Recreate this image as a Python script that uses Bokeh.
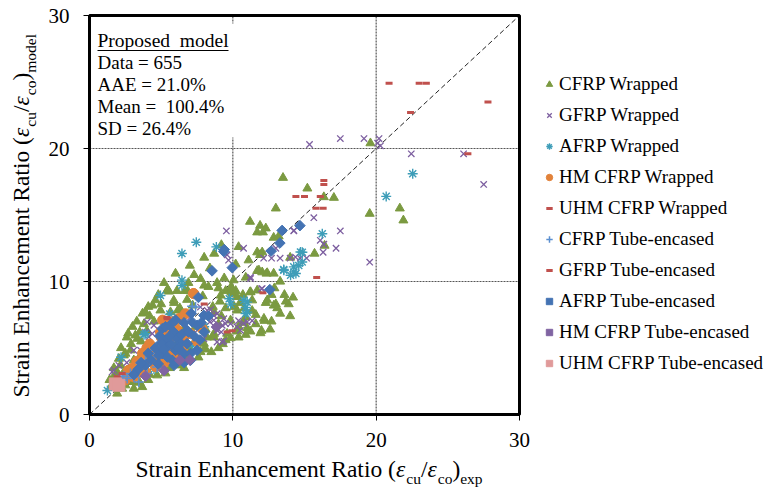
import math
from bokeh.plotting import figure
from bokeh.models import Label, Legend, LegendItem, Range1d, FixedTicker
from bokeh.embed import file_html
from bokeh.resources import INLINE

FONT = "Liberation Serif"

# ---- axis ticks and reference lines ----
axis_ticks = [0, 10, 20, 30]
grid_values = [10, 20]
axis_max = 30

# ---- data: (experimental ratio, model ratio) per specimen group ----
cfrp_wrapped = [
    (19.6, 20.4), (15.2, 17.0), (13.5, 17.8), (16.35, 16.35), (17.05, 16.3), (13.0, 15.5),
    (19.55, 15.1), (21.65, 15.5), (21.9, 14.6), (11.2, 14.5), (11.9, 14.2), (12.3, 14.0),
    (11.7, 13.7), (12.1, 13.7), (12.85, 13.3), (13.2, 13.4), (16.4, 12.7), (15.7, 12.1),
    (14.0, 11.8), (10.4, 12.6), (11.7, 12.2), (11.9, 12.0), (12.05, 12.2), (8.0, 11.8),
    (8.7, 12.1), (9.2, 12.75), (8.4, 11.0), (7.75, 10.2), (9.4, 10.25), (10.05, 10.1),
    (11.7, 10.8), (12.05, 10.7), (12.35, 10.6), (12.85, 10.6), (13.3, 10.0), (11.82, 10.84),
    (12.4, 10.64), (5.45, 9.4), (6.1, 9.3), (6.65, 9.3), (5.55, 9.25), (6.85, 9.3),
    (8.0, 9.7), (8.3, 9.6), (9.0, 9.5), (9.5, 9.3), (10.2, 9.3), (9.85, 9.55),
    (9.96, 9.47), (9.96, 9.09), (10.3, 8.84), (11.2, 9.2), (10.7, 9.0), (11.24, 9.21),
    (11.7, 9.33), (9.15, 8.95), (9.9, 9.2), (4.6, 8.6), (5.0, 8.3), (5.9, 8.4),
    (5.88, 8.58), (6.81, 8.63), (10.5, 8.4), (12.3, 8.4), (13.0, 8.3), (13.9, 8.3),
    (11.35, 8.59), (12.4, 8.59), (12.86, 8.2), (9.1, 8.5), (8.6, 8.1), (9.5, 8.0),
    (10.1, 8.1), (10.8, 8.0), (5.42, 9.33), (4.95, 7.83), (5.65, 7.7), (6.16, 7.83),
    (10.3, 7.83), (11.35, 7.8), (12.2, 7.05), (12.7, 7.0), (13.3, 7.59), (14.0, 7.4),
    (12.17, 7.21), (9.84, 7.08), (8.7, 7.7), (9.2, 7.4), (10.9, 7.3), (11.6, 7.5),
    (4.2, 7.4), (3.8, 6.8), (4.5, 7.0), (9.6, 6.08), (10.4, 6.6), (11.0, 6.5),
    (11.93, 6.12), (11.23, 6.25), (10.3, 6.25), (12.0, 6.3), (8.68, 6.07), (3.5, 6.2),
    (3.2, 5.95), (4.0, 6.3), (7.4, 6.6), (8.1, 6.4), (9.0, 6.8), (6.6, 6.5),
    (3.33, 5.7), (2.9, 5.3), (3.6, 5.5), (5.88, 5.08), (6.12, 5.33), (7.98, 5.33),
    (8.56, 5.83), (8.2, 5.8), (8.7, 5.8), (9.85, 5.75), (10.4, 5.8), (6.47, 5.57),
    (7.4, 5.6), (9.3, 5.3), (4.3, 5.2), (2.86, 4.83), (2.51, 4.58), (2.05, 4.2),
    (3.09, 4.08), (2.4, 4.45), (5.42, 4.33), (7.05, 4.83), (8.09, 4.95), (7.75, 4.7),
    (6.2, 4.3), (6.9, 4.3), (5.8, 4.0), (3.6, 4.5), (4.6, 4.8), (1.93, 3.2),
    (2.16, 3.7), (2.63, 3.33), (5.07, 3.7), (5.6, 3.5), (6.2, 3.7), (3.9, 3.4),
    (3.2, 3.6), (1.7, 3.5), (2.28, 1.95), (1.93, 1.58), (3.09, 1.95), (2.98, 2.45),
    (3.68, 2.07), (4.72, 2.95), (4.1, 2.6), (3.5, 2.4), (2.5, 2.2), (1.5, 2.1),
    (5.3, 3.1), (2.6, 2.7), (7.3, 10.5), (6.9, 9.9), (8.5, 4.7), (9.0, 5.0),
    (6.0, 10.6), (7.0, 11.2), (5.2, 9.9), (4.1, 8.1), (3.7, 7.6), (3.0, 6.6),
    (2.6, 5.8), (7.9, 8.9), (6.3, 8.0), (7.2, 8.2), (8.9, 9.9), (10.9, 10.3),
    (11.1, 11.6), (10.2, 11.3), (12.9, 9.5), (13.6, 9.0), (14.2, 8.8), (10.7, 6.9),
    (12.6, 6.4), (7.6, 4.3), (6.6, 3.5), (4.2, 3.0), (1.6, 2.7), (2.1, 2.4),
    (2.2, 5.0), (2.7, 6.1), (3.3, 7.0), (3.9, 7.7), (4.4, 8.2), (4.8, 9.0),
    (1.4, 2.6), (1.8, 2.9), (2.4, 3.2), (8.0, 4.9), (9.5, 5.6), (10.9, 6.0),
    (11.6, 6.8), (13.1, 8.0), (13.7, 8.5), (12.7, 9.0),
]

gfrp_wrapped = [
    (15.35, 20.3), (17.5, 20.75), (19.15, 20.75), (20.2, 20.75), (20.1, 20.4), (20.3, 20.2),
    (22.45, 19.6), (26.1, 19.6), (27.5, 17.3), (15.65, 14.8), (14.25, 13.8), (17.5, 13.8),
    (16.1, 13.1), (16.35, 12.8), (16.3, 12.2), (17.2, 12.5), (19.55, 11.45), (13.0, 12.5),
    (9.55, 13.8), (9.6, 12.0), (9.7, 11.6), (10.75, 12.5), (12.15, 11.75), (12.7, 11.75),
    (13.3, 11.75), (14.0, 11.75), (14.7, 11.75), (15.15, 11.75), (14.37, 11.84), (12.0, 9.45),
    (11.24, 10.22), (12.05, 9.47), (11.35, 7.05), (10.75, 6.85), (10.4, 7.05), (14.26, 13.84),
    (8.45, 7.88), (8.68, 7.45), (8.4, 6.96), (8.91, 6.33), (9.26, 5.45), (9.49, 6.83),
    (9.19, 6.2), (4.38, 6.08), (4.96, 6.2), (4.61, 5.08), (1.7, 3.33), (2.05, 3.7),
    (3.09, 4.83), (3.56, 4.83), (4.02, 6.96), (4.49, 6.71), (4.14, 5.83), (11.23, 10.33),
    (7.74, 8.08), (8.21, 7.83), (8.91, 7.58), (9.37, 7.2), (9.84, 6.83), (10.3, 6.58),
    (8.67, 7.08), (9.26, 6.7), (11.0, 6.96), (10.53, 6.33), (7.05, 7.33), (7.28, 6.08),
    (7.98, 5.7), (8.9, 5.45), (9.37, 5.52), (1.58, 3.2), (3.9, 6.2), (6.0, 4.3),
    (6.6, 5.5), (2.6, 3.9), (2.2, 2.8),
]

afrp_wrapped = [
    (7.45, 12.95), (6.45, 12.1), (8.85, 12.6), (6.45, 10.1), (6.45, 9.7), (4.95, 8.95),
    (5.6, 7.55), (9.75, 8.7), (9.85, 8.3), (11.0, 8.45), (11.0, 7.7), (10.9, 8.05),
    (10.77, 8.59), (10.89, 7.59), (13.55, 10.9), (14.4, 10.6), (14.6, 11.2), (14.85, 12.2),
    (14.25, 11.1), (16.24, 13.59), (14.72, 12.22), (14.84, 11.47), (13.56, 10.84), (14.26, 10.72),
    (14.03, 10.47), (20.7, 16.4), (22.55, 18.1), (1.25, 1.8), (3.9, 6.07), (2.2, 4.3),
    (3.8, 6.0), (4.5, 3.4), (6.0, 6.8), (8.0, 6.6), (7.2, 5.2),
]

hm_cfrp_wrapped = [
    (7.28, 9.08), (6.7, 7.58), (6.23, 7.2), (5.77, 6.96), (4.95, 6.2), (7.05, 6.08),
    (7.86, 6.45), (6.7, 5.96), (5.19, 4.83), (5.65, 4.83), (4.37, 4.58), (4.02, 4.2),
    (3.79, 3.83), (3.56, 3.58), (3.33, 3.08), (3.09, 2.83), (2.86, 2.95), (4.72, 4.08),
    (5.3, 3.95), (5.88, 4.2), (4.49, 4.45), (7.25, 9.1), (6.35, 7.25), (2.5, 2.6),
    (3.9, 3.2), (4.6, 3.6), (5.5, 5.5), (6.1, 6.4), (5.0, 5.8), (5.4, 6.3),
    (4.2, 5.3), (3.7, 4.6), (3.0, 3.5), (2.7, 3.3), (6.5, 5.0), (7.5, 5.5),
    (6.0, 5.9), (5.1, 7.1), (4.0, 5.0), (3.3, 4.0),
]

uhm_cfrp_wrapped = [
    (20.9, 24.9), (23.0, 24.9), (23.5, 24.9), (27.8, 23.5), (22.4, 22.7), (26.4, 19.6),
]

cfrp_tube = [
    (2.86, 3.08), (3.33, 3.33), (3.56, 3.83), (3.91, 4.08), (4.26, 4.33), (4.72, 3.58),
    (2.63, 2.7), (3.09, 2.83), (7.16, 8.13), (7.4, 8.08), (4.49, 4.83), (4.72, 5.08),
    (2.4, 2.88), (3.44, 2.45), (4.02, 3.08), (2.28, 2.58),
]

gfrp_tube = [
    (8.0, 8.3), (5.4, 7.3), (9.6, 6.2), (9.95, 6.3), (12.1, 9.15), (15.85, 10.3),
    (2.28, 3.08), (1.93, 2.83), (5.42, 7.2), (14.4, 16.4), (15.0, 16.4), (16.1, 16.4),
    (16.35, 17.6), (16.35, 17.3), (15.8, 15.5), (16.3, 15.5),
]

afrp_tube = [
    (13.44, 13.84), (14.68, 14.2), (13.28, 12.89), (12.68, 12.29), (9.96, 11.04), (12.58, 9.39),
    (9.4, 12.4), (8.55, 10.8), (7.6, 8.8), (9.37, 12.25), (7.16, 6.96), (7.51, 6.7),
    (5.88, 6.2), (5.3, 5.58), (6.12, 5.7), (6.35, 5.33), (5.42, 5.08), (6.0, 4.83),
    (6.58, 4.58), (7.05, 4.58), (6.81, 5.33), (5.07, 4.58), (5.77, 4.08), (5.42, 4.33),
    (4.84, 4.45), (6.47, 4.08), (7.05, 4.08), (7.51, 4.83), (7.98, 7.45), (6.81, 6.33),
    (5.07, 6.45), (5.0, 5.4), (5.7, 5.3), (6.4, 6.0), (6.9, 6.2), (7.3, 5.9),
    (4.6, 5.0), (5.3, 6.6), (6.0, 7.1), (7.8, 6.9), (8.3, 7.4), (4.3, 4.1),
    (3.9, 3.7), (3.4, 3.4), (4.8, 3.8), (5.9, 3.7), (6.6, 3.9), (4.9, 5.9),
    (5.6, 6.7), (6.6, 6.9), (7.1, 7.6), (5.2, 4.9), (4.1, 4.6), (3.6, 3.9),
    (3.1, 3.0), (6.2, 5.0), (5.6, 5.9), (7.7, 5.6), (8.0, 6.2),
]

hm_cfrp_tube = [
    (8.86, 6.58), (6.3, 4.08), (3.91, 2.88), (5.2, 3.3), (7.0, 4.1),
]

uhm_cfrp_tube = [
    (1.8, 2.3), (2.05, 2.2),
]

stats_lines = ["Data = 655", "AAE = 21.0%", "Mean = \u00a0100.4%", "SD = 26.4%"]
stats_title = "Proposed \u00a0model"

# ---- canvas geometry: the plotting box spans px 89..519 (x) and 15..414 (y) ----
W, H = 771, 490
BOX_L, BOX_R, BOX_T, BOX_B = 89, 519, 15, 414
kx = (BOX_R - BOX_L) / axis_max
ky = (BOX_B - BOX_T) / axis_max

p = figure(width=W, height=H, output_backend="svg", toolbar_location=None,
           x_range=Range1d(-BOX_L / kx, (W - BOX_L) / kx),
           y_range=Range1d(-(H - BOX_B) / ky, BOX_B / ky),
           min_border=0, min_border_left=0, min_border_right=0,
           min_border_top=0, min_border_bottom=0)
p.xgrid.visible = False
p.ygrid.visible = False
p.outline_line_color = None
p.background_fill_color = "white"
p.border_fill_color = "white"

for ax in (p.xaxis[0], p.yaxis[0]):
    ax.fixed_location = 0
    ax.ticker = FixedTicker(ticks=axis_ticks)
    ax.axis_line_color = None
    ax.major_tick_out = 6
    ax.major_tick_in = 0
    ax.minor_tick_line_color = None
    ax.major_tick_line_color = "black"
    ax.major_tick_line_width = 1
    ax.major_label_text_font = FONT
    ax.major_label_text_font_size = "21px"
    ax.major_label_text_color = "black"
p.xaxis.major_label_standoff = 12
p.yaxis.major_label_standoff = 14


def dx(px):
    return (px - BOX_L) / kx


def dy(py):
    return (BOX_B - py) / ky


# dotted reference grid
gx0 = [g for g in grid_values] + [0 for g in grid_values]
gx1 = [g for g in grid_values] + [axis_max for g in grid_values]
gy0 = [0 for g in grid_values] + [g for g in grid_values]
gy1 = [axis_max for g in grid_values] + [g for g in grid_values]
p.segment(gx0, gy0, gx1, gy1, line_color="#555555", line_width=1.2, line_dash="2 1")

# white text box of the statistics block
p.quad(left=[dx(91)], right=[dx(240)], bottom=[dy(137)], top=[dy(23)],
       fill_color="white", line_color=None)

# 1:1 line
p.line([0, axis_max], [0, axis_max], line_color="#222222", line_width=1, line_dash="5 3")


def xy(pairs):
    return [a for a, b in pairs], [b for a, b in pairs]


series = [
    ("CFRP Wrapped", cfrp_wrapped, dict(marker="triangle", size=9, fill_color="#7B9A41", line_color="#7B9A41")),
    ("GFRP Wrapped", gfrp_wrapped, dict(marker="x", size=9, line_color="#7D5FA0", line_width=1.3)),
    ("AFRP Wrapped", afrp_wrapped, dict(marker="asterisk", size=10, line_color="#3E9DB8", line_width=1.4)),
    ("HM CFRP Wrapped", hm_cfrp_wrapped, dict(marker="circle", size=10, fill_color="#E2823A", line_color="#E2823A")),
    ("UHM CFRP Wrapped", uhm_cfrp_wrapped, dict(marker="dash", size=7, line_color="#C0504D", line_width=3)),
    ("CFRP Tube-encased", cfrp_tube, dict(marker="cross", size=10, line_color="#5B8FD0", line_width=1.5)),
    ("GFRP Tube-encased", gfrp_tube, dict(marker="dash", size=7, line_color="#C0504D", line_width=3)),
    ("AFRP Tube-encased", afrp_tube, dict(marker="square", size=7.5, angle=math.pi / 4, fill_color="#4473B3", line_color="#4473B3")),
    ("HM CFRP Tube-encased", hm_cfrp_tube, dict(marker="square", size=7.5, angle=math.pi / 4, fill_color="#8064A2", line_color="#8064A2")),
    ("UHM CFRP Tube-encased", uhm_cfrp_tube, dict(marker="square", size=12, fill_color="#E09A9A", line_color="#E09A9A")),
]

items = []
for name, pairs, style in series:
    xs, ys = xy(pairs)
    r = p.scatter(xs, ys, **style)
    items.append(LegendItem(label=name, renderers=[r]))

# heavy box around the plotting area
p.quad(left=[0], right=[axis_max], bottom=[0], top=[axis_max],
       fill_color=None, line_color="black", line_width=3)

# legend to the right of the box (offset from the canvas' lower-left corner)
legend = Legend(items=items, location=(541, H - 374))
legend.label_text_font = FONT
legend.label_text_font_size = "19px"
legend.label_text_color = "black"
legend.glyph_width = 16
legend.glyph_height = 20
legend.label_height = 20
legend.spacing = 9
legend.padding = 0
legend.margin = 0
legend.label_standoff = 2
legend.border_line_color = None
legend.background_fill_alpha = 0
p.add_layout(legend)

# statistics block
TXT = 97
p.add_layout(Label(x=TXT, y=H - 40, x_units="screen", y_units="screen",
                   text=stats_title, text_font=FONT, text_font_size="19.5px",
                   text_baseline="middle", text_color="black"))
p.line([dx(97), dx(228)], [dy(50), dy(50)], line_color="black", line_width=1)
for i, t in enumerate(stats_lines):
    p.add_layout(Label(x=TXT, y=H - (62 + 22 * i), x_units="screen", y_units="screen",
                       text=t, text_font=FONT, text_font_size="19px",
                       text_baseline="middle", text_color="black"))

# axis titles built from pieces so that the strain symbols carry subscripts
F = 23.5
S = 15.5
SUB = 0.22 * F
LIFT = 0.47  # label anchor sits this fraction of the font size above the drawn baseline


def title_pieces(sub_text):
    return [
        ("Strain Enhancement Ratio (", "normal", F, 0, 11.082 * F),
        ("\u03b5", "italic", F, 0, 0.44 * F),
        ("cu", "normal", S, SUB, 0.944 * S),
        ("/", "normal", F, 0, 0.278 * F),
        ("\u03b5", "italic", F, 0, 0.44 * F),
        ("co", "normal", S, SUB, 0.944 * S),
        (")", "normal", F, 0, 0.333 * F),
        (sub_text, "normal", S, SUB, 0),
    ]


# x title: baseline at canvas y 480, starting at canvas x 135
cx = 135
for text, style, size, drop, adv in title_pieces("exp"):
    base_py = 480 + drop - LIFT * size
    p.add_layout(Label(x=cx, y=H - base_py, x_units="screen", y_units="screen", text=text,
                       text_font=FONT, text_font_style=style, text_font_size=f"{size}px",
                       text_baseline="alphabetic", text_align="left", text_color="black"))
    cx += adv

# y title: rotated, baseline at canvas x 32, starting at canvas y 397
cy = H - 397
for text, style, size, drop, adv in title_pieces("model"):
    base_px = 32 + drop - LIFT * size
    p.add_layout(Label(x=base_px, y=cy, x_units="screen", y_units="screen", text=text,
                       angle=math.pi / 2,
                       text_font=FONT, text_font_style=style, text_font_size=f"{size}px",
                       text_baseline="alphabetic", text_align="left", text_color="black"))
    cy += adv

open("out.html", "w").write(file_html(p, INLINE))
